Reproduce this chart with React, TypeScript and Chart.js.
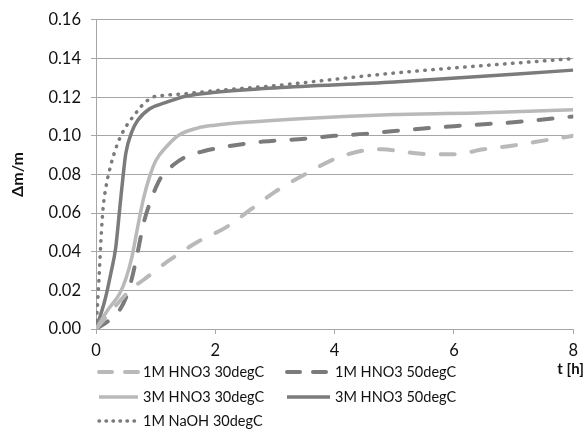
import React, { useEffect, useRef } from "react";
import { Chart, registerables } from "chart.js";

Chart.register(...registerables);

// ---- data ----
const seriesLabels = [
  "1M HNO3 30degC",
  "1M HNO3 50degC",
  "3M HNO3 30degC",
  "3M HNO3 50degC",
  "1M NaOH 30degC",
];

const tHno3_1M_30 = [0, 0.3, 0.6, 0.8, 1.2, 1.7, 2.2, 2.6, 3.0, 3.5, 4.0, 4.5, 4.8, 5.2, 5.6, 6.0, 6.5, 7.0, 7.5, 8.0];
const vHno3_1M_30 = [0, 0.011, 0.021, 0.0255, 0.035, 0.045, 0.053, 0.062, 0.071, 0.080, 0.088, 0.0925, 0.093, 0.0915, 0.0905, 0.0905, 0.093, 0.095, 0.0975, 0.100];

const tHno3_1M_50 = [0, 0.2, 0.4, 0.5, 0.6, 0.7, 0.8, 0.9, 1.0, 1.1, 1.3, 1.5, 1.8, 2.2, 2.8, 3.5, 4.0, 4.5, 5.0, 6.0, 7.0, 8.0];
const vHno3_1M_50 = [0, 0.004, 0.010, 0.016, 0.026, 0.040, 0.055, 0.065, 0.073, 0.079, 0.085, 0.089, 0.092, 0.0945, 0.097, 0.0985, 0.100, 0.101, 0.1025, 0.105, 0.107, 0.110];

const tHno3_3M_30 = [0, 0.2, 0.4, 0.5, 0.6, 0.7, 0.8, 0.9, 1.0, 1.2, 1.4, 1.7, 2.0, 2.5, 3.5, 5.0, 6.5, 8.0];
const vHno3_3M_30 = [0, 0.010, 0.0185, 0.026, 0.037, 0.053, 0.068, 0.079, 0.087, 0.095, 0.1005, 0.104, 0.1055, 0.107, 0.109, 0.111, 0.112, 0.1135];

const tHno3_3M_50 = [0, 0.15, 0.25, 0.33, 0.4, 0.45, 0.5, 0.6, 0.7, 0.9, 1.15, 1.5, 2.0, 3.0, 5.0, 8.0];
const vHno3_3M_50 = [0, 0.015, 0.029, 0.042, 0.063, 0.078, 0.091, 0.102, 0.108, 0.114, 0.117, 0.1205, 0.1225, 0.1248, 0.1278, 0.134];

const tNaoh_1M_30 = [0, 0.03, 0.06, 0.09, 0.12, 0.17, 0.25, 0.35, 0.45, 0.55, 0.65, 0.75, 0.85, 0.95, 1.1, 1.5, 2.0, 3.0, 5.0, 8.0];
const vNaoh_1M_30 = [0, 0.015, 0.032, 0.050, 0.063, 0.074, 0.085, 0.095, 0.102, 0.107, 0.111, 0.115, 0.118, 0.120, 0.1208, 0.1218, 0.1234, 0.126, 0.1325, 0.140];

const xTickValues = [0, 2, 4, 6, 8];
const yTickValues = [0, 0.02, 0.04, 0.06, 0.08, 0.1, 0.12, 0.14, 0.16];

const xTitle = "t [h]";
const yTitle = "Δm/m";

// ---- styles ----
const LIGHT = "#b9b9b9";
const DARK = "#7b7b7b";
const GRID = "#a6a6a6";
const TEXT = "#111111";
const FONT = "Lato, 'Open Sans', sans-serif";

const pts = (t: number[], v: number[]) => t.map((x, i) => ({ x, y: v[i] }));

const legendSlots = [
  { x: 97, y: 372, tx: 143 },
  { x: 285, y: 372, tx: 335 },
  { x: 97, y: 397, tx: 143 },
  { x: 285, y: 397, tx: 335 },
  { x: 97, y: 421, tx: 143 },
];

const legendPlugin = {
  id: "customLegend",
  afterDraw(chart: any) {
    const ctx = chart.ctx as CanvasRenderingContext2D;
    chart.data.datasets.forEach((ds: any, i: number) => {
      const s = legendSlots[i];
      const len = s.tx - s.x - 5;
      ctx.save();
      ctx.strokeStyle = ds.borderColor;
      ctx.lineWidth = ds.borderWidth;
      ctx.lineCap = ds.borderCapStyle || "butt";
      let dash: number[] = [];
      if (ds.borderDash && ds.borderDash.length) {
        dash = ds.borderDash[0] < 2 ? [0.5, 6.5] : [13, 13];
      }
      ctx.setLineDash(dash);
      ctx.beginPath();
      ctx.moveTo(s.x + 2, s.y);
      ctx.lineTo(s.x + len, s.y);
      ctx.stroke();
      ctx.setLineDash([]);
      ctx.fillStyle = TEXT;
      ctx.font = `14.5px ${FONT}`;
      ctx.textBaseline = "middle";
      ctx.textAlign = "left";
      ctx.fillText(ds.label, s.tx, s.y);
      ctx.restore();
    });
    ctx.save();
    ctx.fillStyle = TEXT;
    ctx.font = `bold 15px ${FONT}`;
    ctx.textBaseline = "middle";
    ctx.textAlign = "right";
    ctx.fillText(xTitle, 584, 369);
    ctx.restore();
  },
};

export default function App() {
  const ref = useRef<HTMLCanvasElement | null>(null);

  useEffect(() => {
    if (!ref.current) return;
    const common = {
      pointRadius: 0,
      fill: false,
      cubicInterpolationMode: "monotone" as const,
    };
    const chart = new Chart(ref.current, {
      type: "line",
      data: {
        datasets: [
          {
            ...common,
            label: seriesLabels[0],
            data: pts(tHno3_1M_30, vHno3_1M_30),
            borderColor: LIGHT,
            borderWidth: 4,
            borderDash: [14, 17],
            borderCapStyle: "round",
          },
          {
            ...common,
            label: seriesLabels[1],
            data: pts(tHno3_1M_50, vHno3_1M_50),
            borderColor: DARK,
            borderWidth: 4,
            borderDash: [14, 17],
            borderCapStyle: "round",
          },
          {
            ...common,
            label: seriesLabels[2],
            data: pts(tHno3_3M_30, vHno3_3M_30),
            borderColor: LIGHT,
            borderWidth: 3.5,
            borderCapStyle: "butt",
          },
          {
            ...common,
            label: seriesLabels[3],
            data: pts(tHno3_3M_50, vHno3_3M_50),
            borderColor: DARK,
            borderWidth: 3.5,
            borderCapStyle: "butt",
          },
          {
            ...common,
            label: seriesLabels[4],
            data: pts(tNaoh_1M_30, vNaoh_1M_30),
            borderColor: DARK,
            borderWidth: 3.5,
            borderDash: [0.5, 7.5],
            borderCapStyle: "round",
          },
        ] as any,
      },
      options: {
        animation: false,
        responsive: false,
        devicePixelRatio: 1,
        layout: { padding: { left: 0, right: 9, top: 19, bottom: 86 } },
        plugins: {
          legend: { display: false },
          tooltip: { enabled: false },
        },
        scales: {
          x: {
            type: "linear",
            min: 0,
            max: 8,
            afterBuildTicks: (scale: any) => {
              scale.ticks = xTickValues.map((value) => ({ value }));
            },
            afterFit: (scale: any) => {
              scale.height = 30;
            },
            grid: {
              drawOnChartArea: false,
              drawTicks: true,
              tickLength: 5,
              color: GRID,
            },
            border: { display: true, color: GRID, width: 1 },
            ticks: {
              padding: 7,
              color: TEXT,
              font: { family: FONT, size: 16.5 },
              maxRotation: 0,
              callback: (v: any) => String(v),
            },
          },
          y: {
            type: "linear",
            min: 0,
            max: 0.16,
            afterBuildTicks: (scale: any) => {
              scale.ticks = yTickValues.map((value) => ({ value }));
            },
            afterFit: (scale: any) => {
              scale.width = 96;
            },
            grid: {
              drawTicks: true,
              tickLength: 5,
              color: GRID,
            },
            border: { display: true, color: GRID, width: 1 },
            ticks: {
              padding: 10,
              color: TEXT,
              font: { family: FONT, size: 16.5 },
              callback: (v: any) => Number(v).toFixed(2),
            },
            title: {
              display: true,
              text: yTitle,
              color: TEXT,
              font: { family: FONT, size: 16, weight: "bold" },
              padding: { top: 8, bottom: 4 },
            },
          },
        },
      },
      plugins: [legendPlugin],
    });
    return () => chart.destroy();
  }, []);

  return (
    <div style={{ position: "fixed", left: 0, top: 0, width: 585, height: 445 }}>
      <canvas ref={ref} width={585} height={445} style={{ display: "block" }} />
    </div>
  );
}
